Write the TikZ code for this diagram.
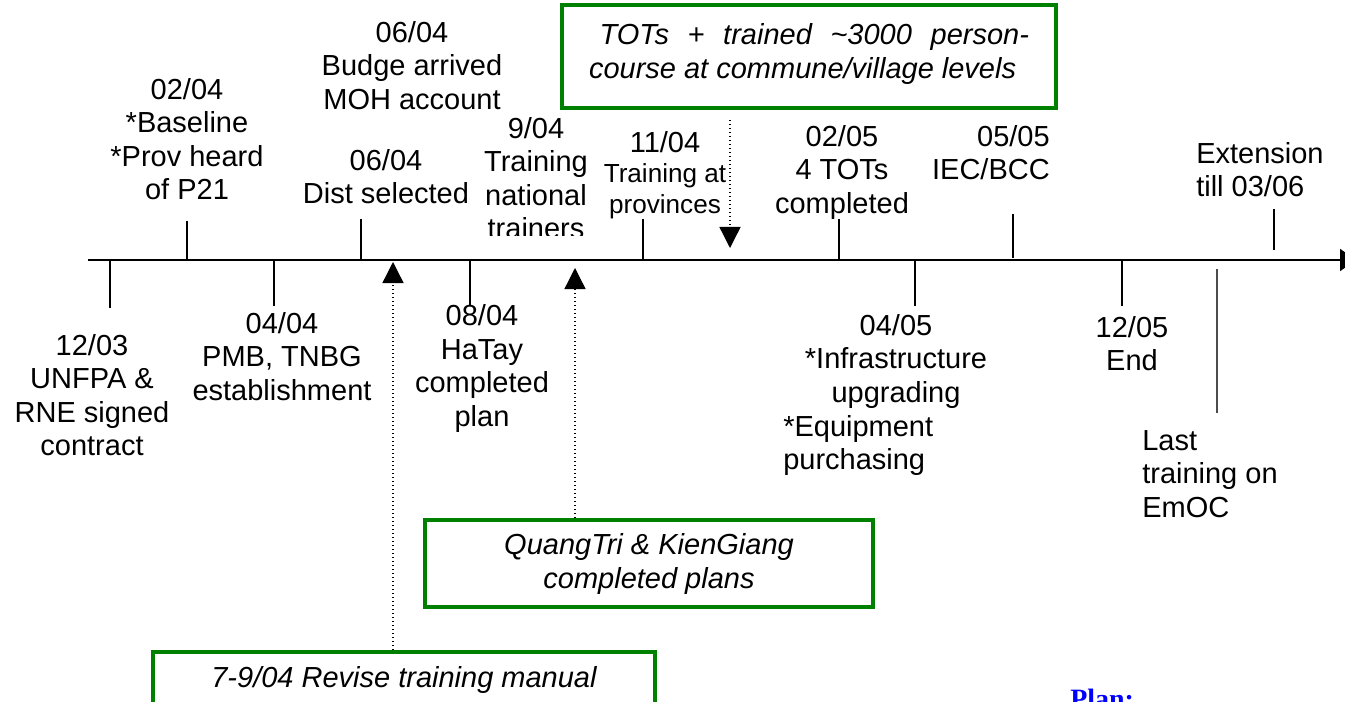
\documentclass[tikz,border=0pt]{standalone}
\usepackage{fontspec}
\setmainfont{Liberation Sans}
\newfontfamily\planfont{Liberation Serif}
\usetikzlibrary{arrows.meta}
\definecolor{boxgreen}{RGB}{0,128,0}
\definecolor{planblue}{RGB}{0,0,255}
\begin{document}
\begin{tikzpicture}[x=0.75pt,y=-0.75pt,
  lbl/.style={inner sep=0pt, align=center, font=\fontsize{21.75pt}{25pt}\selectfont},
  tickline/.style={line width=1.5pt, black},
  gbox/.style={draw=boxgreen, line width=3pt, inner sep=0pt, align=center,
    font=\fontsize{21.75pt}{25.5pt}\selectfont\itshape},
  dotarrow/.style={dotted, line width=1pt, -{Triangle[length=15.75pt,width=15.75pt]}},
]
\useasboundingbox (0,0) rectangle (1345,702);
\clip (0,0) rectangle (1345,702);

% green boxes
\node[gbox, minimum width=370.5pt, minimum height=77.25pt] (boxtop) at (809,56.5)
  {\parbox{330pt}{\hspace*{8pt}\makebox[322pt][s]{TOTs + trained \textasciitilde3000 person-}\\course at commune/village levels\par\vspace*{4pt}}};
\node[gbox, minimum width=336pt, minimum height=65.25pt] (boxqt) at (649,563.5)
  {QuangTri \& KienGiang\\completed plans};
\node[gbox, minimum width=376.5pt, minimum height=42pt] (boxrev) at (404,680)
  {7-9/04 Revise training manual};

% axis
\coordinate (axL) at (88,260);
\coordinate (axR) at (1356,260);
\draw[line width=1.5pt, -{Triangle[length=12pt,width=16.5pt]}] (axL) -- (axR);

% ticks
\coordinate (t1a) at (110,260);  \coordinate (t1b) at (110,308);
\coordinate (t2a) at (187,260);  \coordinate (t2b) at (187,221);
\coordinate (t3a) at (274,260);  \coordinate (t3b) at (274,306);
\coordinate (t4a) at (361,260);  \coordinate (t4b) at (361,219);
\coordinate (t5a) at (470,260);  \coordinate (t5b) at (470,306);
\coordinate (t6a) at (643,260);  \coordinate (t6b) at (643,219);
\coordinate (t7a) at (839,260);  \coordinate (t7b) at (839,219);
\coordinate (t8a) at (915,260);  \coordinate (t8b) at (915,306);
\coordinate (t9a) at (1013,258); \coordinate (t9b) at (1013,214);
\coordinate (t10a) at (1122,260); \coordinate (t10b) at (1122,306);
\coordinate (t11a) at (1274,250); \coordinate (t11b) at (1274,209);
\coordinate (l1) at (1217,269);  \coordinate (l2) at (1217,413);
\foreach \i in {1,...,11} { \draw[tickline] (t\i a) -- (t\i b); }
\draw[line width=1.2pt, black!70] (l1) -- (l2);

% dotted arrows
\coordinate (a1) at (393,262);
\coordinate (a2) at (575,268);
\coordinate (a3) at (730,248);
\draw[dotarrow] (a1 |- boxrev.north) -- (a1);
\draw[dotarrow] (a2 |- boxqt.north) -- (a2);
\draw[dotarrow, shorten <=7.5pt] (a3 |- boxtop.south) -- (a3);

% labels
\node[lbl] (n1203) at (92,395) {12/03\\UNFPA \&\\RNE signed\\contract};
\node[lbl] (n0204) at (187,139) {02/04\\*Baseline\\*Prov heard\\of P21};
\node[lbl] (n0404) at (282,356.5) {04/04\\PMB, TNBG\\establishment};
\node[lbl] (nbudge) at (412,65.5) {06/04\\Budge arrived\\MOH account};
\node[lbl] (ndist) at (386,176.5) {06/04\\Dist selected};
\begin{scope}
  \clip (470,100) rectangle (610,236);
  \node[lbl] (n0904) at (536,178) {9/04\\Training\\national\\trainers};
\end{scope}
\node[lbl] (n0804) at (482,368.5) {08/04\\HaTay\\completed\\plan};
\node[lbl, font=\fontsize{19.6pt}{22.75pt}\selectfont] (n1104) at (665,175)
  {{\fontsize{21.75pt}{25pt}\selectfont 11/04}\\Training at\\provinces};
\node[lbl] (n0205) at (842,172.5) {02/05\\4 TOTs\\completed};
\node[lbl] (n0405) at (896,361.5) {04/05\\*Infrastructure\\upgrading};
\node[lbl, align=left, anchor=west] (nequip) at (783,445.5) {*Equipment\\purchasing};
\node[lbl, align=right, anchor=east] (n0505) at (1050,152.5) {05/05\\IEC/BCC};
\node[lbl] (n1205) at (1132,343.5) {12/05\\End};
\node[lbl, align=left, anchor=west] (nlast) at (1142,474) {Last\\training on\\EmOC};
\node[lbl, align=left, anchor=west] (nextn) at (1196,169.5) {Extension\\till 03/06};
\node[anchor=north west, inner sep=0pt, text=planblue,
  font=\planfont\bfseries\fontsize{21pt}{24pt}\selectfont] (nplan) at (1070,689) {Plan:};
\end{tikzpicture}
\end{document}
